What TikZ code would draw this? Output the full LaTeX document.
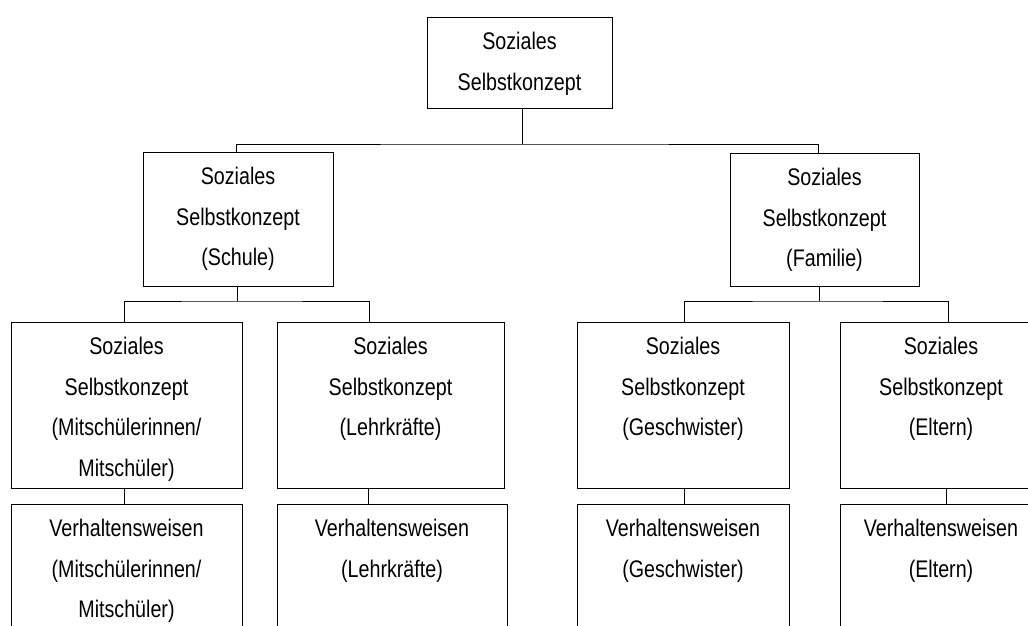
\documentclass[tikz,border=0pt]{standalone}
\usepackage{fontspec}
\setmainfont{Liberation Sans}[FakeStretch=0.82]
\begin{document}
\begin{tikzpicture}[x=1pt,y=-1pt,
  box/.style={draw=black, line width=0.9pt, anchor=north west, inner sep=0pt, outer sep=0pt},
  txt/.style={anchor=north, inner sep=0pt, align=center, font=\fontsize{24}{40.5}\selectfont, yshift=-15pt},
  conn/.style={draw=black, line width=0.9pt}]
\useasboundingbox (0,0) rectangle (1028,626);
\clip (0,0) rectangle (1028,626);
% level 0
\node[box, minimum width=185pt, minimum height=91pt] (root) at (427,17) {};
\node[txt] (troot) at (root.north) {Soziales\\Selbstkonzept};
% level 1
\node[box, minimum width=190pt, minimum height=134pt] (schule) at (143,152) {};
\node[txt] (tschule) at (schule.north) {Soziales\\Selbstkonzept\\(Schule)};
\node[box, minimum width=189pt, minimum height=133pt] (familie) at (730,153) {};
\node[txt] (tfamilie) at (familie.north) {Soziales\\Selbstkonzept\\(Familie)};
% level 2
\node[box, minimum width=231pt, minimum height=166pt] (mit) at (11,322) {};
\node[txt] (tmit) at (mit.north) {Soziales\\Selbstkonzept\\(Mitschülerinnen/\\Mitschüler)};
\node[box, minimum width=227pt, minimum height=166pt] (lehr) at (277,322) {};
\node[txt] (tlehr) at (lehr.north) {Soziales\\Selbstkonzept\\(Lehrkräfte)};
\node[box, minimum width=212pt, minimum height=166pt] (gesch) at (577,322) {};
\node[txt] (tgesch) at (gesch.north) {Soziales\\Selbstkonzept\\(Geschwister)};
\node[box, minimum width=202pt, minimum height=166pt] (elt) at (840,322) {};
\node[txt] (telt) at (elt.north) {Soziales\\Selbstkonzept\\(Eltern)};
% level 3
\node[box, minimum width=231pt, minimum height=150pt] (vmit) at (11,504) {};
\node[txt] (tvmit) at (vmit.north) {Verhaltensweisen\\(Mitschülerinnen/\\Mitschüler)};
\node[box, minimum width=230pt, minimum height=150pt] (vlehr) at (277,504) {};
\node[txt] (tvlehr) at (vlehr.north) {Verhaltensweisen\\(Lehrkräfte)};
\node[box, minimum width=212pt, minimum height=150pt] (vgesch) at (577,504) {};
\node[txt] (tvgesch) at (vgesch.north) {Verhaltensweisen\\(Geschwister)};
\node[box, minimum width=202pt, minimum height=150pt] (velt) at (840,504) {};
\node[txt] (tvelt) at (velt.north) {Verhaltensweisen\\(Eltern)};
% connectors
\coordinate (j0) at ([xshift=2.5pt]root.south |- 0,144);
\draw[conn] ([xshift=2.5pt]root.south) -- (j0);
\draw[conn] ([xshift=-2pt]schule.north) |- (j0) -| ([xshift=-6.5pt]familie.north);
\coordinate (j1) at ([xshift=-1pt]schule.south |- 0,301);
\draw[conn] ([xshift=-1pt]schule.south) -- (j1);
\draw[conn] ([xshift=-2.5pt]mit.north) |- (j1) -| ([xshift=-21.5pt]lehr.north);
\coordinate (j2) at ([xshift=-5.5pt]familie.south |- 0,301);
\draw[conn] ([xshift=-5.5pt]familie.south) -- (j2);
\draw[conn] ([xshift=1pt]gesch.north) |- (j2) -| ([xshift=7pt]elt.north);
\draw[conn] ([xshift=-2.5pt]mit.south) -- ([xshift=-2.5pt]mit.south |- vmit.north);
\draw[conn] ([xshift=-22.5pt]lehr.south) -- ([xshift=-22.5pt]lehr.south |- vlehr.north);
\draw[conn] ([xshift=1pt]gesch.south) -- ([xshift=1pt]gesch.south |- vgesch.north);
\draw[conn] ([xshift=5pt]elt.south) -- ([xshift=5pt]elt.south |- velt.north);
\end{tikzpicture}
\end{document}
